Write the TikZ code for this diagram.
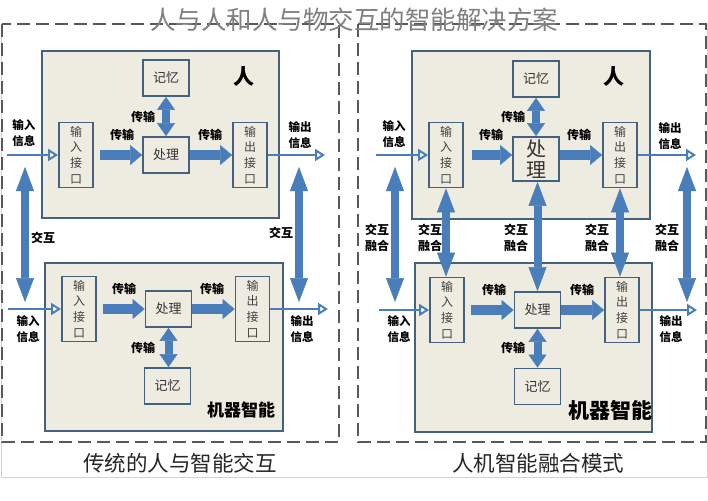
\documentclass[tikz,border=0pt]{standalone}
\usepackage{fontspec}
\setmainfont{Noto Sans CJK SC}
\usetikzlibrary{arrows.meta}
\definecolor{boxfill}{HTML}{EEECE1}
\definecolor{boxline}{HTML}{44627F}
\definecolor{flow}{HTML}{4A7EBB}
\definecolor{frame}{HTML}{595959}
\tikzset{
  panel/.style={draw=frame, line width=1.3pt, dash pattern=on 13pt off 6pt},
  unit/.style={draw=boxline, fill=boxfill, line width=1.8pt, inner sep=0pt},
  part/.style={unit, minimum width=46pt, minimum height=36pt, text=black!80,
    font=\fontsize{13}{16}\selectfont},
  port/.style={unit, minimum width=34pt, minimum height=65pt, align=center,
    text=black!75, font=\fontsize{12}{15.7}\selectfont},
  fat/.style={flow, line width=10pt, -{Triangle[width=20pt,length=12pt,line width=0.5pt]}},
  twin/.style={flow, line width=8pt,
    {Triangle[width=18pt,length=13pt,line width=0.5pt]}-{Triangle[width=18pt,length=13pt,line width=0.5pt]}},
  link/.style={flow, line width=8pt,
    {Triangle[width=18pt,length=24pt,line width=0.5pt]}-{Triangle[width=18pt,length=24pt,line width=0.5pt]}},
  feed/.style={flow, line width=2.6pt,
    -{Triangle[open,fill=white,width=12pt,length=10pt,line width=2pt]}},
  lbl/.style={font=\fontsize{12}{16.5}\selectfont\bfseries, align=center, inner sep=0pt},
  info/.style={font=\fontsize{11.5}{15.5}\selectfont\bfseries, align=center, inner sep=0pt}
}
\begin{document}
\begin{tikzpicture}[x=1pt,y=-1pt]
\useasboundingbox (0,0) rectangle (708,500);
\fill[white] (0,0) rectangle (708,500);

% frames
\draw[gray!35, line width=0.8pt] (1,24) -- (1,477) -- (707,477) -- (707,24);
\draw[panel] (2,24) rectangle (339,442);
\draw[panel] (358,24) rectangle (706,442);
\node[text=black!50, font=\fontsize{25.5}{28}\selectfont] (title) at (354,20) {人与人和人与物交互的智能解决方案};

% left: traditional
\node[unit, minimum width=237pt, minimum height=167pt] (hum1) at (160.5,134.5) {};
\node[part] (mem1) at (166,78) {记忆};
\node[part] (proc1) at (166,155) {处理};
\node[port] (in1) at (76,155) {输\\入\\接\\口};
\node[port] (out1) at (250,155) {输\\出\\接\\口};
\node[font=\fontsize{21}{24}\selectfont\bfseries] (who1) at (244,77) {人};

\node[unit, minimum width=238pt, minimum height=168pt] (mach1) at (164,347) {};
\node[port] (in2) at (79,309) {输\\入\\接\\口};
\node[part] (proc2) at (168.5,309) {处理};
\node[port] (out2) at (252.5,309) {输\\出\\接\\口};
\node[part] (mem2) at (167.5,386) {记忆};
\node[font=\fontsize{17}{20}\selectfont\bfseries] (who2) at (241,410) {机器智能};

\draw[fat, shorten <=6pt] (in1.east) -- (in1.east -| proc1.west);
\draw[fat] (proc1.east) -- (proc1.east -| out1.west);
\draw[twin] (mem1.south) -- (proc1.north);
\draw[fat, shorten <=6pt] (in2.east) -- (in2.east -| proc2.west);
\draw[fat] (proc2.east) -- (proc2.east -| out2.west);
\draw[twin] (proc2.south) -- (proc2.south |- mem2.north);

\coordinate (src1) at (7,155);
\coordinate (dst1) at (325,155);
\coordinate (src2) at (8,309);
\coordinate (dst2) at (328,309);
\draw[feed] (src1) -- (in1.west);
\draw[feed] (out1.east) -- (dst1);
\draw[feed] (src2) -- (in2.west);
\draw[feed] (out2.east) -- (dst2);

\coordinate (up1) at (25,167);
\coordinate (lo1) at (25,302);
\coordinate (up2) at (299,167);
\coordinate (lo2) at (299,302);
\draw[link] (up1) -- (lo1);
\draw[link] (up2) -- (lo2);

\node[lbl] (t1) at (122,135) {传输};
\node[lbl] (t2) at (210,135) {传输};
\node[lbl] (t3) at (143,117) {传输};
\node[lbl] (t4) at (124,289) {传输};
\node[lbl] (t5) at (212,289) {传输};
\node[lbl] (t6) at (143,348) {传输};
\node[lbl] (x1) at (43,238) {交互};
\node[lbl] (x2) at (281,233) {交互};
\node[info] (i1) at (24,133) {输入\\信息};
\node[info] (o1) at (300,135) {输出\\信息};
\node[info] (i2) at (28,329) {输入\\信息};
\node[info] (o2) at (302,329) {输出\\信息};

% right: fusion
\node[unit, minimum width=238pt, minimum height=168pt] (hum2) at (531,135) {};
\node[part] (mem3) at (536,79) {记忆};
\node[part, minimum height=44pt, font=\fontsize{20}{21}\selectfont, align=center] (proc3) at (536,159) {处\\理};
\node[port] (in3) at (446,155) {输\\入\\接\\口};
\node[port] (out3) at (620,155) {输\\出\\接\\口};
\node[font=\fontsize{21}{24}\selectfont\bfseries] (who3) at (614,77) {人};

\node[unit, minimum width=237pt, minimum height=169pt] (mach2) at (533.5,347.5) {};
\node[port] (in4) at (447,310) {输\\入\\接\\口};
\node[part] (proc4) at (537.5,310) {处理};
\node[port] (out4) at (622,310) {输\\出\\接\\口};
\node[part] (mem4) at (537.5,386.5) {记忆};
\node[font=\fontsize{21}{24}\selectfont\bfseries] (who4) at (610,410) {机器智能};

\draw[fat, shorten <=8pt] (in3.east) -- (in3.east -| proc3.west);
\draw[fat] (proc3.east |- in3.east) -- (in3.east -| out3.west);
\draw[twin] (mem3.south) -- (proc3.north);
\draw[fat, shorten <=6pt] (in4.east) -- (in4.east -| proc4.west);
\draw[fat] (proc4.east) -- (proc4.east -| out4.west);
\draw[twin] (proc4.south) -- (mem4.north);

\draw[link] (in3.south) -- (in3.south |- in4.north);
\draw[link] (proc4.north |- proc3.south) -- (proc4.north);
\draw[link] (out3.south) -- (out3.south |- out4.north);

\coordinate (src3) at (376,155);
\coordinate (dst3) at (696,155);
\coordinate (src4) at (379,310);
\coordinate (dst4) at (697,310);
\draw[feed] (src3) -- (in3.west);
\draw[feed] (out3.east) -- (dst3);
\draw[feed] (src4) -- (in4.west);
\draw[feed] (out4.east) -- (dst4);

\coordinate (up3) at (395,167);
\coordinate (lo3) at (395,302);
\coordinate (up4) at (687,167);
\coordinate (lo4) at (687,302);
\draw[link] (up3) -- (lo3);
\draw[link] (up4) -- (lo4);

\node[lbl] (t7) at (491,135) {传输};
\node[lbl] (t8) at (579,135) {传输};
\node[lbl] (t9) at (513,117) {传输};
\node[lbl] (t10) at (494,290) {传输};
\node[lbl] (t11) at (582,290) {传输};
\node[lbl] (t12) at (513,348) {传输};
\node[lbl] (f1) at (377,238) {交互\\融合};
\node[lbl] (f2) at (430,238) {交互\\融合};
\node[lbl] (f3) at (516,238) {交互\\融合};
\node[lbl] (f4) at (597,238) {交互\\融合};
\node[lbl] (f5) at (667,238) {交互\\融合};
\node[info] (i3) at (394,134) {输入\\信息};
\node[info] (o3) at (670,136) {输出\\信息};
\node[info] (i4) at (399,329) {输入\\信息};
\node[info] (o4) at (671,329) {输出\\信息};

% captions
\node[text=black!85, font=\fontsize{21.5}{24}\selectfont] (cap1) at (180,463) {传统的人与智能交互};
\node[text=black!85, font=\fontsize{21.5}{24}\selectfont] (cap2) at (538,463) {人机智能融合模式};
\end{tikzpicture}
\end{document}
